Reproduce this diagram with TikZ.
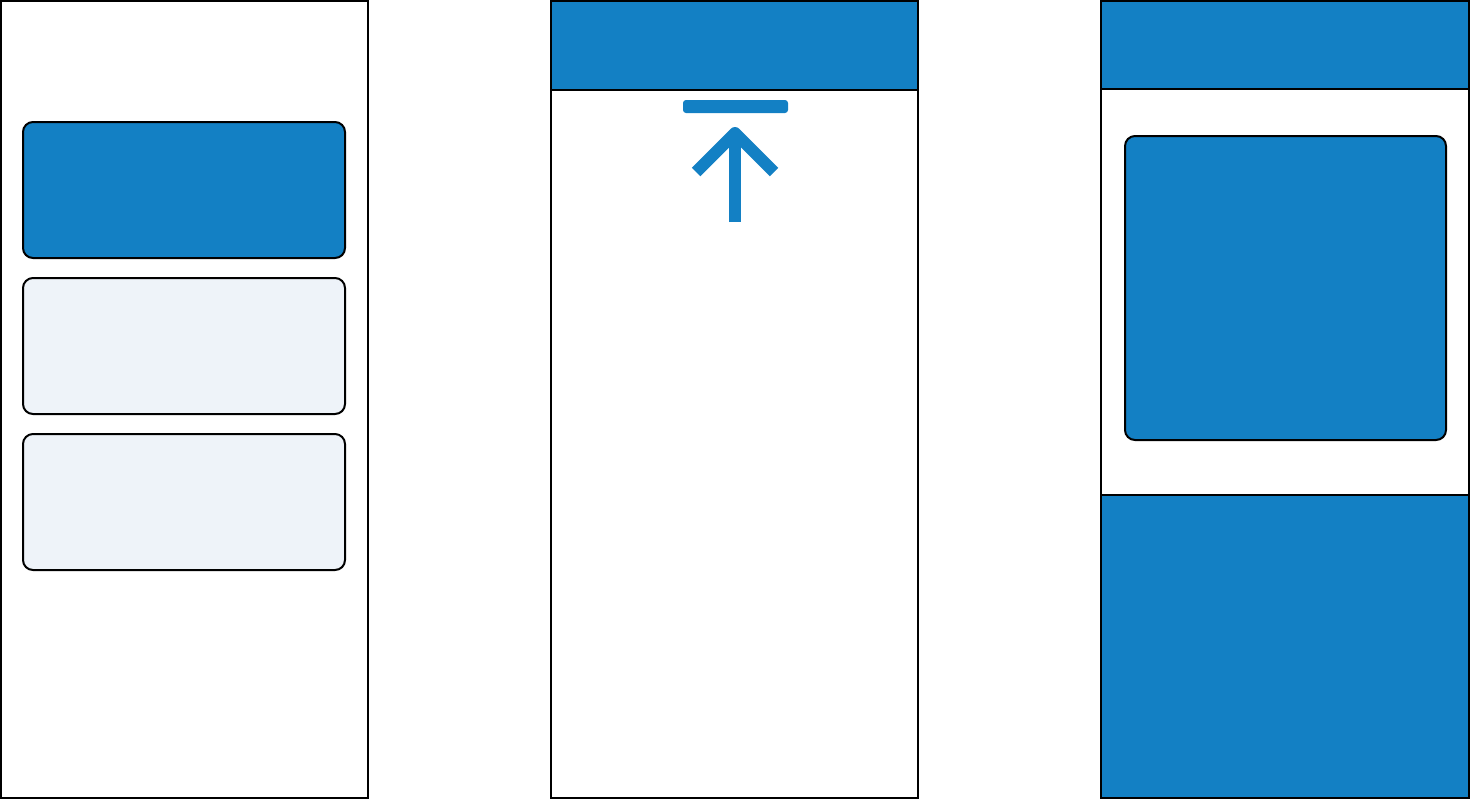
\documentclass[tikz,border=0pt]{standalone}
\definecolor{appblue}{HTML}{1380C4}
\definecolor{cardgray}{HTML}{EEF3F9}
\begin{document}
\begin{tikzpicture}[x=0.5pt,y=-0.5pt,line width=1pt]
  \useasboundingbox (0,0) rectangle (1471,800);
  % left screen: three cards
  \draw[fill=white] (1,1) rectangle (368,798);
  \draw[fill=appblue,rounded corners=5pt] (23,122) rectangle (345,258);
  \foreach \y in {278,434} {
    \draw[fill=cardgray,rounded corners=5pt] (23,\y) rectangle (345,\y+136);
  }
  % middle screen: header and scroll-to-top icon
  \draw[fill=white] (551,1) rectangle (918,798);
  \draw[fill=appblue] (551,1) rectangle (918,90);
  \fill[appblue,rounded corners=1.5pt] (683,100) rectangle (788,113);
  \draw[appblue,line width=6pt] (735,222) -- (735,138);
  \draw[appblue,line width=6pt,line join=round] (696,172) -- (735,133) -- (774,172);
  % right screen: header, card and bottom sheet
  \draw[fill=white] (1101,1) rectangle (1469,798);
  \draw[fill=appblue] (1101,1) rectangle (1469,89);
  \draw[fill=appblue,rounded corners=5pt] (1125,136) rectangle (1446,440);
  \draw[fill=appblue] (1101,495) rectangle (1469,798);
\end{tikzpicture}
\end{document}
